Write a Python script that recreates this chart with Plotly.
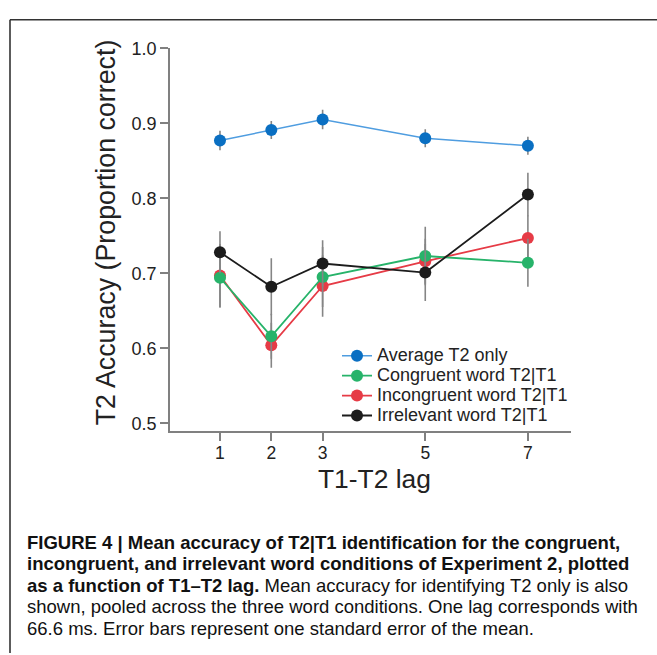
import plotly.graph_objects as go

W, H = 657, 655

# ---- data ----
lags = [1, 2, 3, 5, 7]
avg_t2 = [0.877, 0.891, 0.905, 0.880, 0.870]
avg_t2_se = [0.013, 0.012, 0.013, 0.012, 0.012]
congruent = [0.694, 0.616, 0.695, 0.723, 0.714]
congruent_se = [0.040, 0.030, 0.040, 0.039, 0.032]
incongruent = [0.697, 0.604, 0.683, 0.716, 0.747]
incongruent_se = [0.042, 0.030, 0.041, 0.030, 0.030]
irrelevant = [0.728, 0.682, 0.713, 0.701, 0.805]
irrelevant_se = [0.028, 0.038, 0.031, 0.038, 0.029]

y_ticks = [0.5, 0.6, 0.7, 0.8, 0.9, 1.0]
y_ticklabels = ["0.5", "0.6", "0.7", "0.8", "0.9", "1.0"]

series = [
    # name, values, se, marker color, line color, line width, legend rank
    ("Average T2 only", avg_t2, avg_t2_se, "#0a6fc2", "#4f9de0", 1.4, 1),
    ("Incongruent word T2|T1", incongruent, incongruent_se, "#e63b46", "#e63b46", 1.8, 3),
    ("Congruent word T2|T1", congruent, congruent_se, "#27b36a", "#27b36a", 1.8, 2),
    ("Irrelevant word T2|T1", irrelevant, irrelevant_se, "#1c1c1c", "#1c1c1c", 1.8, 4),
]

FONT = "Liberation Sans, Arial, Helvetica, sans-serif"

fig = go.Figure()
for name, vals, se, mcol, lcol, lw, rank in series:
    fig.add_trace(go.Scatter(
        x=lags, y=vals,
        name='<span style="font-size:18px">' + name + '</span>',
        mode="lines+markers",
        line=dict(color=lcol, width=lw),
        marker=dict(color=mcol, size=12),
        error_y=dict(type="data", array=se, visible=True, color="#858585",
                     thickness=1.6, width=0),
        legendrank=rank,
    ))

def px_x(p):
    return p / W

def px_y(p):
    return 1 - p / H

fig.update_layout(
    width=W, height=H,
    margin=dict(l=0, r=0, t=0, b=0),
    paper_bgcolor="white", plot_bgcolor="white",
    font=dict(family=FONT, color="#222"),
    xaxis=dict(
        domain=[px_x(170), px_x(571)],
        range=[0.026, 7.84],
        tickvals=lags, ticktext=[str(v) for v in lags],
        ticks="outside", ticklen=8, tickwidth=1.5, tickcolor="#808080",
        showline=True, linecolor="#808080", linewidth=1.6,
        showgrid=False, zeroline=False,
        tickfont=dict(size=17.5, color="#222"),
        ticklabelstandoff=-3,
    ),
    yaxis=dict(
        domain=[px_y(429), px_y(39)],
        range=[0.4895, 1.0],
        tickvals=y_ticks, ticktext=y_ticklabels,
        ticks="outside", ticklen=8, tickwidth=1.5, tickcolor="#808080",
        showline=True, linecolor="#808080", linewidth=1.6,
        showgrid=False, zeroline=False,
        tickfont=dict(size=18, color="#222"),
    ),
    legend=dict(
        x=px_x(337), y=px_y(337), xanchor="left", yanchor="top",
        bgcolor="rgba(0,0,0,0)", borderwidth=0,
        font=dict(size=13, color="#222"),
        itemwidth=30,
    ),
    showlegend=True,
)

annotations = [
    dict(text="T1-T2 lag", x=px_x(374), y=px_y(478), xref="paper", yref="paper",
         xanchor="center", yanchor="middle", showarrow=False,
         font=dict(size=26.4, color="#222")),
    dict(text="T2 Accuracy (Proportion correct)", x=px_x(106), y=px_y(226.5),
         xref="paper", yref="paper", xanchor="center", yanchor="middle",
         showarrow=False, textangle=-90, font=dict(size=26.8, color="#222")),
]

caption_lines = [
    "<b>FIGURE 4 | Mean accuracy of T2|T1 identification for the congruent,</b>",
    "<b>incongruent, and irrelevant word conditions of Experiment 2, plotted</b>",
    "<b>as a function of T1–T2 lag.</b> Mean accuracy for identifying T2 only is also",
    "shown, pooled across the three word conditions. One lag corresponds with",
    "66.6 ms. Error bars represent one standard error of the mean.",
]
cap_y = [542, 564, 586, 608, 630]
for line, yy in zip(caption_lines, cap_y):
    annotations.append(dict(
        text=line, x=px_x(25), y=px_y(yy), xref="paper", yref="paper",
        xanchor="left", yanchor="middle", showarrow=False, align="left",
        font=dict(size=18.5, color="#111"),
    ))

fig.update_layout(annotations=annotations)

# outer frame (top and left edges)
fig.add_shape(type="line", xref="paper", yref="paper",
              x0=px_x(10), x1=1.0, y0=px_y(10), y1=px_y(10),
              line=dict(color="#333", width=1.6))
fig.add_shape(type="line", xref="paper", yref="paper",
              x0=px_x(10), x1=px_x(10), y0=px_y(10), y1=0.0,
              line=dict(color="#333", width=1.6))

fig.write_html(
    "out.html",
    post_script="document.body.style.margin='0';document.body.style.padding='0';",
)
